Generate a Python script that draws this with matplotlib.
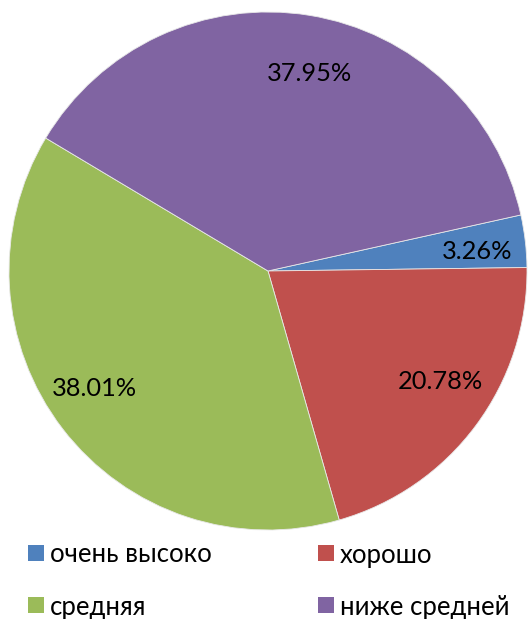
import numpy as np
import matplotlib
matplotlib.use("Agg")
import matplotlib.pyplot as plt
from matplotlib.patches import Rectangle

plt.rcParams["font.family"] = ["Lato", "Noto Sans", "DejaVu Sans"]

labels = ["очень высоко", "хорошо", "средняя", "ниже средней"]
values = [3.26, 20.78, 38.01, 37.95]
colors = ["#4F81BD", "#C0504D", "#9BBB59", "#8064A2"]
# label placement: distance from centre (fraction of radius) and angle nudge (deg)
label_dist = [0.81, 0.79, 0.81, 0.78]
label_nudge = [-1.4, 4.1, -3.5, -2.8]

W, H = 528, 619
fig = plt.figure(figsize=(W / 100, H / 100), dpi=100)

cx, cy, r = 268, 271, 259
ax = fig.add_axes([(cx - r) / W, (H - cy - r) / H, 2 * r / W, 2 * r / H])

start = 12.5
wedges, _ = ax.pie(values, colors=colors, startangle=start, counterclock=False,
                   radius=1, wedgeprops=dict(linewidth=0.6, edgecolor="#e8e8e8"))
ax.set_xlim(-1, 1)
ax.set_ylim(-1, 1)
ax.set_aspect("equal")
ax.axis("off")

# percentage labels near the middle angle of each slice
angle = start
for v, d, n in zip(values, label_dist, label_nudge):
    mid = np.deg2rad(angle - v * 3.6 / 2 + n)
    ax.text(d * np.cos(mid), d * np.sin(mid), f"{v:.2f}%",
            ha="center", va="center", fontsize=18.3, color="black")
    angle -= v * 3.6

# legend: 2x2 grid, row-wise, drawn in pixel positions
col_x = [28, 318]
row_y = [552.5, 605]
box = 16
for i, (lab, col) in enumerate(zip(labels, colors)):
    x = col_x[i % 2]
    y = row_y[i // 2]
    fig.patches.append(Rectangle((x / W, (H - y - box / 2) / H), box / W, box / H,
                                 facecolor=col, edgecolor="none",
                                 transform=fig.transFigure, figure=fig))
    fig.text((x + box + 6) / W, (H - y) / H, lab, ha="left", va="center_baseline",
             fontsize=18.5, color="black")

fig.savefig("out.png", dpi=100)
